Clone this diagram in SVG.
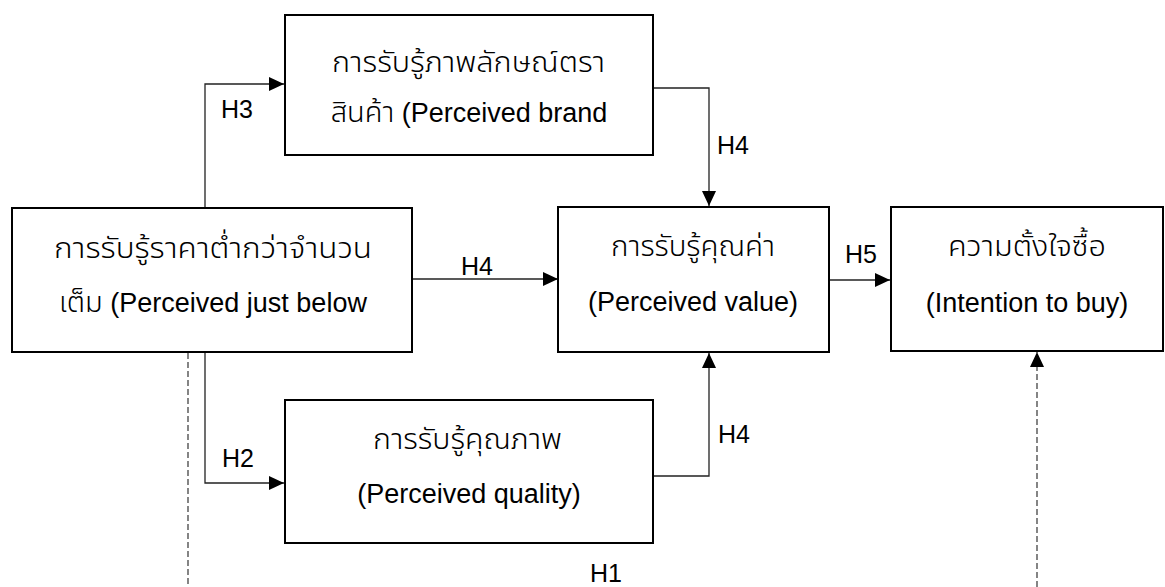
<svg xmlns="http://www.w3.org/2000/svg" width="1165" height="587" viewBox="0 0 1165 587">
<style>
.box{fill:#fff;stroke:#000;stroke-width:2}
.t{font-family:"Liberation Sans","Noto Sans Thai","Noto Sans",sans-serif;font-size:27px;fill:#000}
.m{text-anchor:middle}
.th{font-size:29px;font-weight:300}
.lbl{font-family:"Liberation Sans",Arial,sans-serif;font-size:25px;fill:#000}
.c{fill:none;stroke:#222;stroke-width:1.3}
.d{fill:none;stroke:#444;stroke-width:1.3;stroke-dasharray:6 3}
</style>
<defs>
<marker id="ah" markerUnits="userSpaceOnUse" markerWidth="15" markerHeight="14" refX="15" refY="7" orient="auto">
<path d="M0,0 L15,7 L0,14 Z" fill="#000"/>
</marker>
</defs>
<g id="connectors">
<polyline class="c" points="205,208 205,84 284,84" marker-end="url(#ah)"/>
<polyline class="c" points="205,352 205,483 284,483" marker-end="url(#ah)"/>
<line class="c" x1="412" y1="279" x2="558" y2="279" marker-end="url(#ah)"/>
<polyline class="c" points="653,88 709,88 709,206" marker-end="url(#ah)"/>
<polyline class="c" points="653,476 709,476 709,353" marker-end="url(#ah)"/>
<line class="c" x1="829" y1="280" x2="890" y2="280" marker-end="url(#ah)"/>
<line class="d" x1="188" y1="353" x2="188" y2="587"/>
<line class="d" x1="1037" y1="587" x2="1037" y2="352" marker-end="url(#ah)"/>
<text class="lbl" x="221" y="118">H3</text>
<text class="lbl" x="222" y="467">H2</text>
<text class="lbl" x="461" y="275">H4</text>
<text class="lbl" x="717" y="154">H4</text>
<text class="lbl" x="718" y="443">H4</text>
<text class="lbl" x="845" y="263">H5</text>
<text class="lbl" x="590" y="582">H1</text>
</g>
<g id="brand">
<rect class="box" x="285" y="15" width="368" height="140"/>
<text class="t th" x="332" y="72" textLength="273" lengthAdjust="spacingAndGlyphs">การรับรู้ภาพลักษณ์ตรา</text>
<text class="t m" x="469" y="122"><tspan class="th">สินค้า</tspan> (Perceived brand</text>
</g>
<g id="price">
<rect class="box" x="12" y="208" width="400" height="144"/>
<text class="t th" x="54" y="258" textLength="318" lengthAdjust="spacingAndGlyphs">การรับรู้ราคาต่ำกว่าจำนวน</text>
<text class="t m" x="213" y="312"><tspan class="th">เต็ม</tspan> (Perceived just below</text>
</g>
<g id="value">
<rect class="box" x="558" y="207" width="271" height="145"/>
<text class="t th" x="611" y="256" textLength="164" lengthAdjust="spacingAndGlyphs">การรับรู้คุณค่า</text>
<text class="t m" x="693" y="311">(Perceived value)</text>
</g>
<g id="intention">
<rect class="box" x="891" y="207" width="272" height="144"/>
<text class="t th" x="948" y="256" textLength="158" lengthAdjust="spacingAndGlyphs">ความตั้งใจซื้อ</text>
<text class="t m" x="1027" y="312">(Intention to buy)</text>
</g>
<g id="quality">
<rect class="box" x="285" y="400" width="368" height="143"/>
<text class="t th" x="373" y="449" textLength="189" lengthAdjust="spacingAndGlyphs">การรับรู้คุณภาพ</text>
<text class="t m" x="469" y="503">(Perceived quality)</text>
</g>
</svg>
